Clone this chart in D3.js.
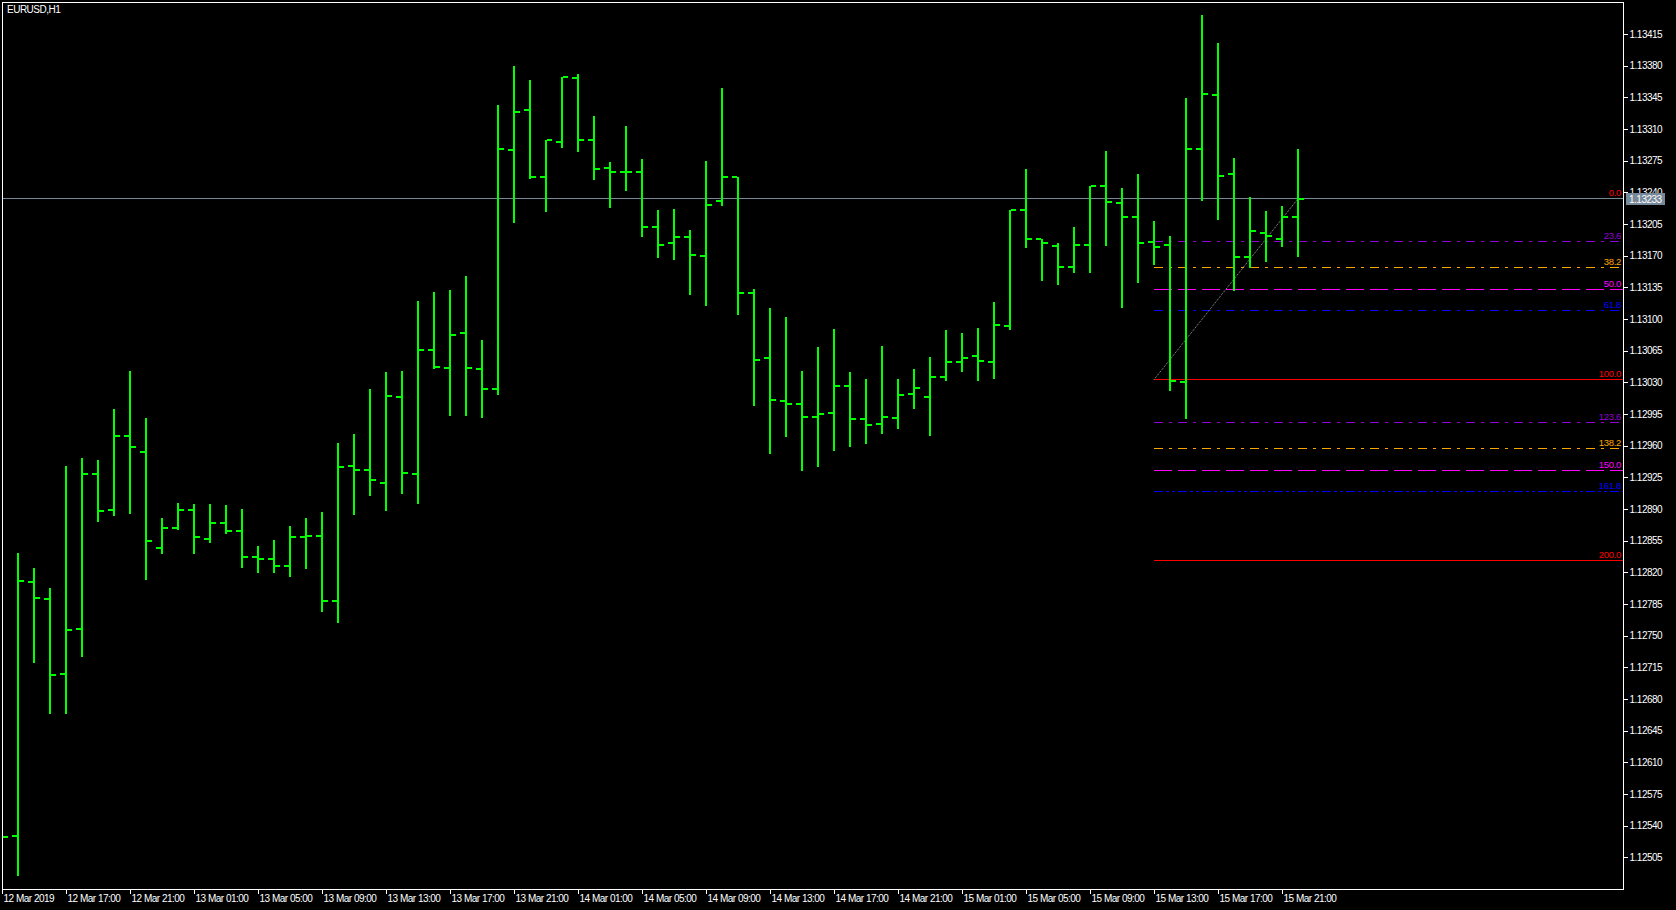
<!DOCTYPE html>
<html>
<head>
<meta charset="utf-8">
<script src="https://cdn.jsdelivr.net/npm/d3@7"></script>
<style>
  html, body { margin: 0; padding: 0; background: #000; overflow: hidden; }
  text { font-family: "Liberation Sans", Arial, sans-serif; }
</style>
</head>
<body>
<script>
// EURUSD H1, 12 Mar 13:00 – 15 Mar 22:00 (bar index 0..81)
const opens = [
  1.12535, 1.12529, 1.12809, 1.12791, 1.12708, 1.12757, 1.12929, 1.12889, 1.12971, 1.12953,
  1.12847, 1.12869, 1.12889, 1.12857, 1.12874, 1.12866, 1.12837, 1.12835, 1.12827, 1.12859,
  1.12860, 1.12788, 1.12937, 1.12933, 1.12919, 1.13014, 1.12929, 1.13066, 1.13046, 1.13084,
  1.13045, 1.13023, 1.13287, 1.13331, 1.13257, 1.13296, 1.13366, 1.13298, 1.13267, 1.13263,
  1.13262, 1.13202, 1.13184, 1.13191, 1.13170, 1.13230, 1.13257, 1.13129, 1.13057, 1.13009,
  1.13006, 1.12992, 1.12996, 1.13026, 1.12989, 1.12984, 1.12991, 1.13017, 1.13014, 1.13036,
  1.13053, 1.13059, 1.13053, 1.13092, 1.13220, 1.13188, 1.13181, 1.13157, 1.13182, 1.13247,
  1.13228, 1.13213, 1.13185, 1.13182, 1.13030, 1.13288, 1.13348, 1.13260, 1.13168, 1.13195,
  1.13188, 1.13213
];
const highs = [
  1.12560, 1.12841, 1.12825, 1.12803, 1.12938, 1.12946, 1.12944, 1.13000, 1.13042, 1.12991,
  1.12880, 1.12897, 1.12896, 1.12896, 1.12894, 1.12890, 1.12849, 1.12856, 1.12871, 1.12880,
  1.12887, 1.12963, 1.12973, 1.13023, 1.13041, 1.13042, 1.13120, 1.13130, 1.13132, 1.13148,
  1.13077, 1.13337, 1.13380, 1.13364, 1.13298, 1.13367, 1.13371, 1.13324, 1.13274, 1.13313,
  1.13277, 1.13220, 1.13222, 1.13198, 1.13275, 1.13355, 1.13257, 1.13133, 1.13112, 1.13102,
  1.13042, 1.13069, 1.13089, 1.13041, 1.13034, 1.13070, 1.13034, 1.13045, 1.13058, 1.13088,
  1.13084, 1.13090, 1.13119, 1.13220, 1.13266, 1.13188, 1.13184, 1.13202, 1.13247, 1.13286,
  1.13245, 1.13260, 1.13208, 1.13192, 1.13344, 1.13436, 1.13405, 1.13278, 1.13235, 1.13219,
  1.13225, 1.13288
];
const lows = [
  1.12515, 1.12485, 1.12721, 1.12664, 1.12664, 1.12728, 1.12877, 1.12883, 1.12886, 1.12813,
  1.12841, 1.12868, 1.12841, 1.12854, 1.12864, 1.12826, 1.12820, 1.12820, 1.12816, 1.12825,
  1.12777, 1.12765, 1.12884, 1.12905, 1.12889, 1.12908, 1.12897, 1.13046, 1.12994, 1.12994,
  1.12992, 1.13017, 1.13207, 1.13256, 1.13219, 1.13290, 1.13286, 1.13255, 1.13224, 1.13243,
  1.13192, 1.13169, 1.13166, 1.13128, 1.13116, 1.13226, 1.13106, 1.13005, 1.12952, 1.12971,
  1.12933, 1.12937, 1.12955, 1.12960, 1.12963, 1.12974, 1.12979, 1.13002, 1.12972, 1.13033,
  1.13042, 1.13033, 1.13035, 1.13089, 1.13180, 1.13143, 1.13139, 1.13152, 1.13152, 1.13182,
  1.13113, 1.13141, 1.13161, 1.13021, 1.12991, 1.13232, 1.13211, 1.13132, 1.13158, 1.13164,
  1.13181, 1.13170
];
const closes = [
  1.12528, 1.12810, 1.12792, 1.12706, 1.12756, 1.12929, 1.12888, 1.12971, 1.12958, 1.12855,
  1.12869, 1.12889, 1.12859, 1.12874, 1.12866, 1.12837, 1.12835, 1.12827, 1.12859, 1.12860,
  1.12788, 1.12936, 1.12933, 1.12922, 1.13015, 1.12930, 1.13066, 1.13047, 1.13082, 1.13046,
  1.13023, 1.13288, 1.13329, 1.13257, 1.13298, 1.13367, 1.13298, 1.13266, 1.13262, 1.13262,
  1.13202, 1.13182, 1.13191, 1.13171, 1.13226, 1.13257, 1.13129, 1.13055, 1.13011, 1.13006,
  1.12992, 1.12995, 1.13026, 1.12989, 1.12983, 1.12992, 1.13016, 1.13024, 1.13036, 1.13052,
  1.13057, 1.13054, 1.13093, 1.13220, 1.13188, 1.13184, 1.13157, 1.13182, 1.13247, 1.13229,
  1.13213, 1.13184, 1.13180, 1.13031, 1.13288, 1.13349, 1.13258, 1.13169, 1.13197, 1.13192,
  1.13213, 1.13233
];

// Time axis labels and the bar index each one sits on
const timeTickLabels = [
  "12 Mar 2019", "12 Mar 17:00", "12 Mar 21:00", "13 Mar 01:00", "13 Mar 05:00", "13 Mar 09:00",
  "13 Mar 13:00", "13 Mar 17:00", "13 Mar 21:00", "14 Mar 01:00", "14 Mar 05:00", "14 Mar 09:00",
  "14 Mar 13:00", "14 Mar 17:00", "14 Mar 21:00", "15 Mar 01:00", "15 Mar 05:00", "15 Mar 09:00",
  "15 Mar 13:00", "15 Mar 17:00", "15 Mar 21:00"
];
const timeTickBars = [0, 4, 8, 12, 16, 20, 24, 28, 32, 36, 40, 44, 48, 52, 56, 60, 64, 68, 72, 76, 80];

// Price axis labels
const priceTicks = [
  1.13415, 1.13380, 1.13345, 1.13310, 1.13275, 1.13240, 1.13205, 1.13170, 1.13135, 1.13100,
  1.13065, 1.13030, 1.12995, 1.12960, 1.12925, 1.12890, 1.12855, 1.12820, 1.12785, 1.12750,
  1.12715, 1.12680, 1.12645, 1.12610, 1.12575, 1.12540, 1.12505
];

const symbolTitle = "EURUSD,H1";
const bidPrice = 1.13233;

// Fibonacci retracement: anchored from bar 72 @ 1.13033 up to bar 81 @ 1.13233
const fibFromBar = 72, fibFromPrice = 1.13033;
const fibToBar = 81, fibToPrice = 1.13233;
const fibLevels = [0, 23.6, 38.2, 50, 61.8, 100, 123.6, 138.2, 150, 161.8, 200];
const fibLabels = ["0.0", "23.6", "38.2", "50.0", "61.8", "100.0", "123.6", "138.2", "150.0", "161.8", "200.0"];
const fibColors = ["#ff0000", "#9400d3", "#ffa500", "#ff00ff", "#0000ff", "#ff0000",
                   "#9400d3", "#ffa500", "#ff00ff", "#0000ff", "#ff0000"];
const fibDashes = [null, "9,6,3,6", "9,6,3,6", "18,6", "9,6,3,6", null,
                   "9,6,3,6", "9,6,3,6", "18,6", "9,3,3,3,3,3", null];

// ---- layout ----
const W = 1676, H = 910;
const plot = { left: 2, top: 2, right: 1623, bottom: 889 };

const svg = d3.select("body").append("svg")
  .attr("width", W).attr("height", H)
  .style("display", "block").style("background", "#000");

const x = d3.scaleLinear().domain([0, 101.25]).range([2, 1622]);
const y = d3.scaleLinear().domain([1.12505, 1.13415]).range([857.33, 34]);

const crisp = v => Math.floor(v) + 0.5;

svg.append("clipPath").attr("id", "plot-clip")
  .append("rect")
  .attr("x", plot.left + 1).attr("y", plot.top + 1)
  .attr("width", plot.right - plot.left - 1).attr("height", plot.bottom - plot.top - 1);

const chart = svg.append("g").attr("clip-path", "url(#plot-clip)");

// bid line
chart.append("line")
  .attr("x1", plot.left).attr("x2", plot.right)
  .attr("y1", crisp(y(bidPrice))).attr("y2", crisp(y(bidPrice)))
  .attr("stroke", "#778899").attr("stroke-width", 1);

// Fibonacci levels
const fibRange = fibToPrice - fibFromPrice;
const fibData = fibLevels.map((lv, i) => ({
  level: lv, label: fibLabels[i], color: fibColors[i], dash: fibDashes[i],
  price: fibToPrice - lv / 100 * fibRange
}));

chart.append("g").selectAll("line")
  .data(fibData.filter(d => d.level !== 0))
  .join("line")
  .attr("x1", Math.round(x(fibFromBar))).attr("x2", plot.right)
  .attr("y1", d => crisp(y(d.price))).attr("y2", d => crisp(y(d.price)))
  .attr("stroke", d => d.color).attr("stroke-width", 1)
  .attr("stroke-dasharray", d => d.dash)
  .attr("shape-rendering", "crispEdges");

// trend line of the retracement
chart.append("line")
  .attr("x1", x(fibFromBar)).attr("y1", y(fibFromPrice))
  .attr("x2", x(fibToBar)).attr("y2", y(fibToPrice))
  .attr("stroke", "#a0a0a0").attr("stroke-width", 1)
  .attr("stroke-dasharray", "1,1");

// OHLC bars
const bars = opens.map((o, i) => ({ i, o, h: highs[i], l: lows[i], c: closes[i] }));
const barColor = "#00ff00";
const gBars = chart.append("g").attr("fill", barColor).attr("shape-rendering", "crispEdges");

gBars.selectAll("rect.hl").data(bars).join("rect").attr("class", "hl")
  .attr("x", d => Math.round(x(d.i)) - 1)
  .attr("y", d => Math.round(y(d.h)))
  .attr("width", 2)
  .attr("height", d => Math.round(y(d.l)) - Math.round(y(d.h)) + 1);

gBars.selectAll("rect.op").data(bars).join("rect").attr("class", "op")
  .attr("x", d => Math.round(x(d.i)) - 6)
  .attr("y", d => Math.round(y(d.o)) - 1)
  .attr("width", 5).attr("height", 2);

gBars.selectAll("rect.cl").data(bars).join("rect").attr("class", "cl")
  .attr("x", d => Math.round(x(d.i)) + 1)
  .attr("y", d => Math.round(y(d.c)) - 1)
  .attr("width", 5).attr("height", 2);

// Fibonacci level labels
chart.append("g").selectAll("text")
  .data(fibData)
  .join("text")
  .attr("x", plot.right - 2)
  .attr("y", d => Math.floor(y(d.price)) - 2)
  .attr("text-anchor", "end")
  .attr("fill", d => d.color)
  .style("font-size", "9.5px")
  .style("letter-spacing", "-0.3px")
  .text(d => d.label);

// frame
svg.append("rect")
  .attr("x", plot.left + 0.5).attr("y", plot.top + 0.5)
  .attr("width", plot.right - plot.left).attr("height", plot.bottom - plot.top)
  .attr("fill", "none").attr("stroke", "#fff").attr("stroke-width", 1);

// price axis
const yAxis = d3.axisRight(y)
  .tickValues(priceTicks)
  .tickSize(4)
  .tickPadding(2)
  .tickFormat(d3.format(".5f"));
const gy = svg.append("g")
  .attr("transform", `translate(${plot.right + 0.5},0)`)
  .call(yAxis);
gy.select(".domain").remove();
gy.selectAll(".tick line").attr("stroke", "#fff").attr("shape-rendering", "crispEdges");
gy.selectAll(".tick text")
  .attr("fill", "#fff")
  .style("font-size", "10px")
  .style("letter-spacing", "-0.5px")
  .style("font-family", "'Liberation Sans', Arial, sans-serif");

// time axis
const xAxis = d3.axisBottom(x)
  .tickValues(timeTickBars)
  .tickSize(4)
  .tickFormat((d, i) => timeTickLabels[i]);
const gx = svg.append("g")
  .attr("transform", `translate(0,${plot.bottom + 0.5})`)
  .call(xAxis);
gx.select(".domain").remove();
gx.selectAll(".tick line").attr("stroke", "#fff").attr("shape-rendering", "crispEdges");
gx.selectAll(".tick text")
  .attr("fill", "#fff")
  .attr("text-anchor", "start")
  .attr("x", 1)
  .attr("y", 5)
  .attr("dy", "0.71em")
  .style("font-size", "10px")
  .style("letter-spacing", "-0.5px")
  .style("font-family", "'Liberation Sans', Arial, sans-serif");

// current bid tag on the price axis
const bidY = y(bidPrice);
svg.append("rect")
  .attr("x", plot.right + 3).attr("y", Math.round(bidY) - 6)
  .attr("width", 39).attr("height", 12)
  .attr("fill", "#778899");
svg.append("text")
  .attr("x", plot.right + 6).attr("y", Math.round(bidY) + 4)
  .attr("fill", "#fff")
  .style("font-size", "10px")
  .style("letter-spacing", "-0.5px")
  .text(d3.format(".5f")(bidPrice));

// symbol caption
svg.append("text")
  .attr("x", 7).attr("y", 13)
  .attr("fill", "#fff")
  .style("font-size", "10px")
  .style("letter-spacing", "-0.5px")
  .text(symbolTitle);
</script>
</body>
</html>
